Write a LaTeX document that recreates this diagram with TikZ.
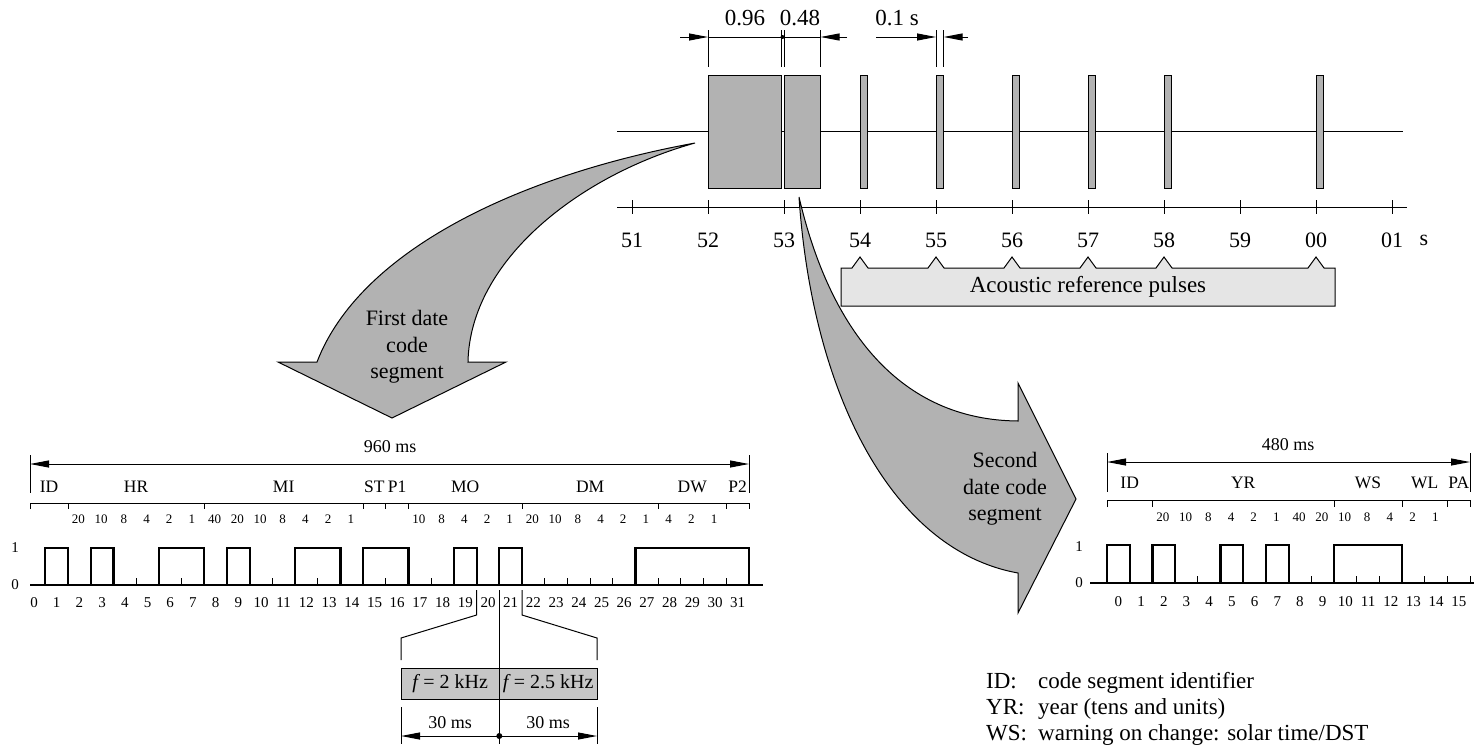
\documentclass[tikz,border=0pt]{standalone}
\usepackage{fontspec}
\setmainfont{Liberation Serif}
\usepackage{tikz}
\usetikzlibrary{arrows.meta}

\begin{document}
\begin{tikzpicture}[x=1pt, y=-1pt,
    thin/.style={line width=1pt},
    sig/.style={line width=2.2pt},
    pulse/.style={draw, line width=1pt, fill=gray!60},
    bigarrow/.style={draw, line width=1pt, fill=gray!60},
    dim/.style={line width=1pt, -{Triangle[length=19pt, width=7pt]}},
    dimboth/.style={line width=1pt, {Triangle[length=19pt, width=7pt]}-{Triangle[length=19pt, width=7pt]}},
    ticklbl/.style={inner sep=0pt, font=\fontsize{22}{26}\selectfont},
    toplbl/.style={inner sep=0pt, font=\fontsize{23}{27}\selectfont},
    grp/.style={inner sep=0pt, font=\fontsize{17.5}{20}\selectfont},
    num/.style={inner sep=0pt, font=\fontsize{13}{15}\selectfont},
    bit/.style={inner sep=0pt, font=\fontsize{15}{17}\selectfont},
    ms/.style={inner sep=0pt, font=\fontsize{18}{21}\selectfont},
    fbox/.style={draw, line width=1pt, fill=gray!45, minimum width=98pt, minimum height=31pt,
                 inner sep=0pt, font=\fontsize{20}{23}\selectfont},
    note/.style={inner sep=0pt, anchor=base west, font=\fontsize{23}{26}\selectfont},
    arrowtext/.style={inner sep=0pt, align=center, font=\fontsize{22}{26.5}\selectfont},
  ]
    \useasboundingbox (0,0) rectangle (1474,744);

    % time line with the code segments and the reference pulses
    \draw[thin] (617,131.5) -- (1403,131.5);
    \draw[pulse] (708,75) rectangle (781,188);
    \draw[pulse] (784,75) rectangle (820.5,188);
    \foreach \s in {860,936,1012,1088,1164,1316}
      \draw[pulse] (\s,75) rectangle ++(7.6,113);

    % dimensions above
    \foreach \x in {708,781,784,820.5,936,943.6}
      \draw[thin] (\x,30) -- (\x,67);
    \coordinate (d96) at (708,37);
    \coordinate (d48) at (820.5,37);
    \draw[dim] (680,37) -- (d96);
    \draw[thin] (d96) -- (d48);
    \draw[dim] (847,37) -- (d48);
    \fill (782.5,37) circle (2);
    \draw[dim] (876,37) -- (936,37);
    \draw[dim] (968,37) -- (943.6,37);
    \node[toplbl] (t096) at (745,18.5) {0.96};
    \node[toplbl] (t048) at (800,18.5) {0.48};
    \node[toplbl] (t01) at (897,18.5) {0.1 s};

    % seconds axis
    \draw[thin] (617,207) -- (1407,207);
    \foreach \t [count=\i from 0] in {51,52,53,54,55,56,57,58,59,00,01} {
      \draw[thin] ({632+76*\i},200) -- ({632+76*\i},214);
      \node[ticklbl] (sec\i) at ({632+76*\i},240) {\t};
    }
    \node[ticklbl] (unit) at (1424,240) {s};

    % acoustic reference pulses
    \draw[thin, fill=gray!20] (841,268)
      \foreach \p in {860,936,1012,1088,1164,1316} { -- ({\p-8},268) -- (\p,257) -- ({\p+8},268) }
      -- (1335,268) -- (1335,306) -- (841,306) -- cycle;
    \node[toplbl] (acoustic) at (1088,287) {Acoustic reference pulses};

    % curved arrows
    \draw[bigarrow] (695,143) .. controls (580,175) and (470,260) .. (468,362)
      -- (506,362) -- (392,418) -- (278,362) -- (317,362)
      .. controls (360,250) and (520,175) .. (695,143) -- cycle;
    \node[arrowtext] (first) at (407,347) {First date\\code\\segment};

    \draw[bigarrow] (799,197) .. controls (830,330) and (900,420) .. (1018,421)
      -- (1018,383) -- (1076,499) -- (1018,613) -- (1018,573)
      .. controls (890,550) and (812,390) .. (799,197) -- cycle;
    \node[arrowtext] (second) at (1005,489) {Second\\date code\\segment};

    % first date code segment
    \draw[thin] (30,455) -- (30,493);
    \draw[thin] (749,455) -- (749,493);
    \coordinate (a960) at (30,464);
    \coordinate (b960) at (749,464);
    \draw[dimboth] (a960) -- (b960);
    \node[ms] (t960) at (390,447) {960 ms};

    \node[grp] (g1ID) at (49,487) {ID};
    \foreach \a/\b/\t in {2/8/HR,8/15/MI,15/16/ST,16/17/P1,17/22/MO,22/28/DM,28/31/DW,31/32/P2}
      \node[grp] (g1\t) at ({22.6+22.7*(\a+\b)/2},487) {\t};
    \draw[thin] (30,509) -- (30,503) -- (749,503) -- (749,509);
    \foreach \k in {2,8,15,16,17,22,28,31}
      \draw[thin] ({22.6+22.7*\k},503) -- ++(0,6);
    \foreach \k/\v in {2/20,3/10,4/8,5/4,6/2,7/1,8/40,9/20,10/10,11/8,12/4,13/2,14/1,
                      17/10,18/8,19/4,20/2,21/1,22/20,23/10,24/8,25/4,26/2,27/1,28/4,29/2,30/1}
      \node[num] (n1x\k) at ({33+22.7*\k},519) {\v};

    \node[bit] (one1) at (15,548) {1};
    \node[bit] (zero1) at (15,585) {0};
    \draw[sig] (30,585) -- (763,585);
    \foreach \k in {1,...,32}
      \draw[thin] ({22.6+22.7*\k},585) -- ++(0,-7);
    \foreach \a/\b in {1/2,3/4,6/8,9/10,12/14,15/17,19/20,21/22,27/32}
      \draw[sig] ({22.6+22.7*\a},585) |- ({22.6+22.7*\b},548) -- ({22.6+22.7*\b},585);
    \foreach \k in {0,...,31}
      \node[bit] (b1x\k) at ({34+22.7*\k},603) {\k};

    % bit 20 and 21 in detail
    \draw[thin] (476.6,590) -- (476.6,615) -- (401,638) -- (401,660);
    \draw[thin] (522,590) -- (522,615) -- (597,638) -- (597,660);
    \node[fbox] (f2k) at (450.15,683.5) {\textit{f}\,= 2 kHz};
    \node[fbox] (f25k) at (548.15,683.5) {\textit{f}\,= 2.5 kHz};
    \draw[thin] (499.3,590) -- (499.3,744);
    \draw[thin] (401,707) -- (401,744);
    \draw[thin] (597,707) -- (597,744);
    \coordinate (m30) at (499.3,736);
    \draw[dim] (m30) -- (401,736);
    \draw[dim] (m30) -- (597,736);
    \fill (m30) circle (3);
    \node[ms] (t30a) at (450,723) {30 ms};
    \node[ms] (t30b) at (548,723) {30 ms};

    % second date code segment
    \draw[thin] (1107,453) -- (1107,492);
    \draw[thin] (1470,453) -- (1470,492);
    \coordinate (a480) at (1107,462);
    \coordinate (b480) at (1470,462);
    \draw[dimboth] (a480) -- (b480);
    \node[ms] (t480) at (1288,445) {480 ms};

    \foreach \a/\b/\t in {0/2/ID,2/10/YR,10/13/WS,13/15/WL,15/16/PA}
      \node[grp] (g2\t) at ({1107+22.7*(\a+\b)/2},483) {\t};
    \draw[thin] (1107,507) -- (1107,500) -- (1470,500) -- (1470,507);
    \foreach \k in {2,10,13,15}
      \draw[thin] ({1107+22.7*\k},500) -- ++(0,7);
    \foreach \k/\v in {2/20,3/10,4/8,5/4,6/2,7/1,8/40,9/20,10/10,11/8,12/4,13/2,14/1}
      \node[num] (n2x\k) at ({1117.5+22.7*\k},517) {\v};

    \node[bit] (one2) at (1079,547) {1};
    \node[bit] (zero2) at (1079,583) {0};
    \draw[sig] (1090,583) -- (1474,583);
    \foreach \k in {1,...,16}
      \draw[thin] ({1107+22.7*\k},583) -- ++(0,-7);
    \foreach \a/\b in {0/1,2/3,5/6,7/8,10/13}
      \draw[sig] ({1107+22.7*\a},583) |- ({1107+22.7*\b},545) -- ({1107+22.7*\b},583);
    \foreach \k in {0,...,15}
      \node[bit] (b2x\k) at ({1118.35+22.7*\k},602) {\k};

    % legend
    \node[note] (kID) at (986,688.5) {ID:};
    \node[note] (kYR) at (986,714.5) {YR:};
    \node[note] (kWS) at (986,740.5) {WS:};
    \node[note] (dID) at (1038,688.5) {code segment identifier};
    \node[note] (dYR) at (1038,714.5) {year (tens and units)};
    \node[note] (dWS) at (1038,740.5) {warning on change: solar time/DST};
  \end{tikzpicture}
\end{document}
